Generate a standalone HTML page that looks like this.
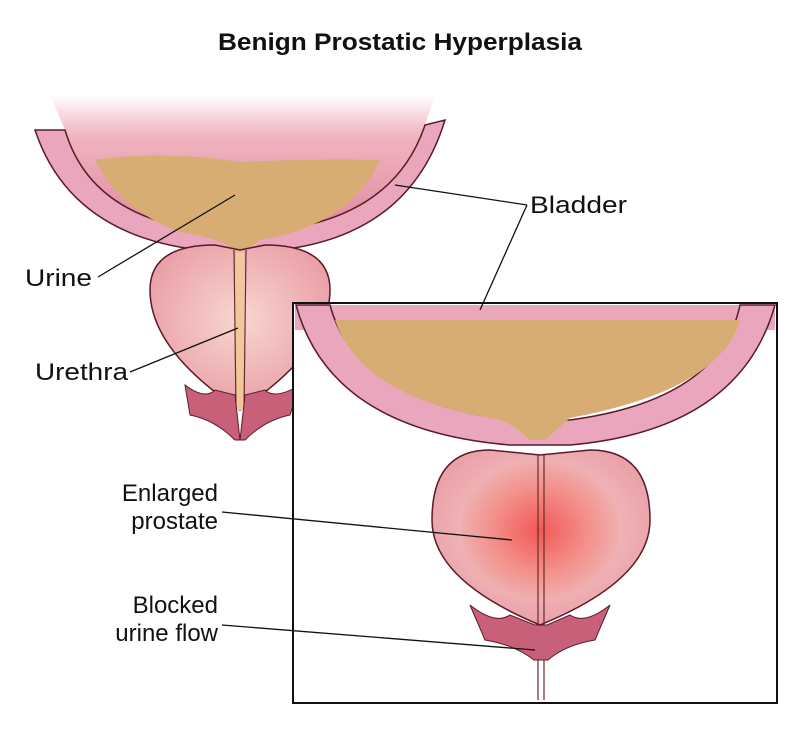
<!DOCTYPE html>
<html><head><meta charset="utf-8"><style>
html,body{margin:0;padding:0;background:#fff;}
svg{display:block;}
text{font-family:"Liberation Sans",sans-serif;fill:#111;}
</style></head><body>
<svg width="800" height="730" viewBox="0 0 800 730" xmlns="http://www.w3.org/2000/svg">
<defs>
<radialGradient id="pr" cx="50%" cy="45%" r="55%"><stop offset="0" stop-color="#f8d6d0"/><stop offset="1" stop-color="#eaa0a8"/></radialGradient>
<radialGradient id="red" cx="50%" cy="50%" r="50%"><stop offset="0" stop-color="#f04a4a"/><stop offset="0.6" stop-color="#f48a84"/><stop offset="1" stop-color="#efb0b0"/></radialGradient>
<linearGradient id="top" x1="0" y1="0" x2="0" y2="1"><stop offset="0" stop-color="#fff"/><stop offset="0.3" stop-color="#f0b4c0"/><stop offset="1" stop-color="#e08aa0"/></linearGradient>
</defs>
<text x="400" y="50" text-anchor="middle" font-size="24" font-weight="bold" textLength="364" lengthAdjust="spacingAndGlyphs">Benign Prostatic Hyperplasia</text>

<!-- LEFT -->
<path d="M50 95 L435 95 L425 125 Q395 215 280 230 L200 230 Q90 215 65 130 Z" fill="url(#top)"/>
<path d="M35 130 Q70 235 200 250 L280 250 Q410 235 445 120 L425 125 Q395 215 280 230 L200 230 Q90 215 65 130 Z" fill="#eaa6bc" stroke="#5a1a2a" stroke-width="1.5"/>
<path d="M95 160 Q160 150 240 162 Q320 158 380 160 Q350 225 260 240 L245 250 L235 250 Q220 238 180 232 Q120 210 95 160 Z" fill="#d7ad74"/>
<path d="M150 290 Q150 245 215 245 L240 250 L265 245 Q330 245 330 290 Q330 350 240 410 Q150 350 150 290 Z" fill="url(#pr)" stroke="#5a1a2a" stroke-width="1.5"/>
<path d="M236 252 L244 252 L244 410 L236 410 Z" fill="#f2c89a"/>
<path d="M234 250 L236 410 M246 250 L244 410" stroke="#6a2a2a" stroke-width="1.2"/>
<path d="M185 385 Q205 400 215 390 L235 395 L240 440 L245 395 L265 390 Q275 400 300 385 L290 415 Q265 420 245 440 L235 440 Q215 420 190 415 Z" fill="#c8607a" stroke="#5a1a2a" stroke-width="1"/>

<!-- INSET -->
<rect x="293" y="303" width="484" height="400" fill="#fff" stroke="#111" stroke-width="2"/>
<path d="M295 305 L775 305 L775 330 L295 330 Z" fill="#e9a8b8"/>
<path d="M296 305 Q330 430 510 445 L570 445 Q740 430 775 305 L740 305 Q720 400 570 420 L510 420 Q355 400 330 305 Z" fill="#eaa6bc" stroke="#5a1a2a" stroke-width="1.5"/>
<path d="M335 320 L740 320 Q720 390 570 418 L545 440 L530 440 Q510 420 490 418 Q360 395 335 320 Z" fill="#d7ad74"/>
<path d="M432 520 Q432 450 490 450 L540 455 L590 450 Q650 450 650 520 Q650 580 540 625 Q432 580 432 520 Z" fill="url(#pr)" stroke="#5a1a2a" stroke-width="1.5"/>
<ellipse cx="540" cy="530" rx="80" ry="70" fill="url(#red)" opacity="0.9"/>
<path d="M538 455 L538 700 M544 455 L544 700" stroke="#6a2a2a" stroke-width="1.2"/>
<path d="M470 605 Q495 625 510 615 L535 625 L547 625 L570 615 Q585 625 610 605 L595 640 Q565 645 548 660 L534 660 Q515 645 485 640 Z" fill="#c8607a" stroke="#5a1a2a" stroke-width="1"/>

<!-- labels -->
<text x="530" y="213" font-size="24" textLength="97" lengthAdjust="spacingAndGlyphs">Bladder</text>
<path d="M527 205 L395 185 M527 205 L480 310" stroke="#111" stroke-width="1.3" fill="none"/>
<text x="25" y="286" font-size="24" textLength="67" lengthAdjust="spacingAndGlyphs">Urine</text>
<path d="M98 277 L235 195" stroke="#111" stroke-width="1.3"/>
<text x="35" y="380" font-size="24" textLength="93" lengthAdjust="spacingAndGlyphs">Urethra</text>
<path d="M130 372 L238 328" stroke="#111" stroke-width="1.3"/>
<text x="218" y="501" font-size="24" text-anchor="end">Enlarged</text>
<text x="218" y="529" font-size="24" text-anchor="end">prostate</text>
<path d="M222 512 L512 540" stroke="#111" stroke-width="1.3"/>
<text x="218" y="613" font-size="24" text-anchor="end">Blocked</text>
<text x="218" y="641" font-size="24" text-anchor="end">urine flow</text>
<path d="M222 625 L535 650" stroke="#111" stroke-width="1.3"/>
</svg>
</body></html>
